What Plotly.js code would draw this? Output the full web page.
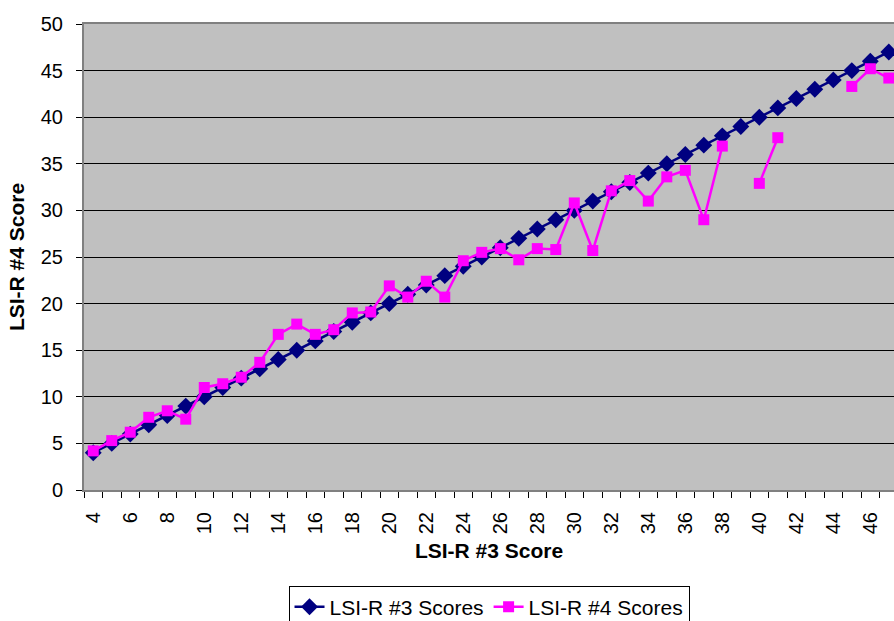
<!DOCTYPE html>
<html>
<head>
<meta charset="utf-8">
<script src="https://cdn.plot.ly/plotly-3.0.1.min.js"></script>
<style>html,body{margin:0;padding:0;background:#fff;}#chart{width:894px;height:621px;}</style>
</head>
<body>
<div id="chart"></div>
<script>
// LSI-R #3 score categories
const scores = [4,5,6,7,8,9,10,11,12,13,14,15,16,17,18,19,20,21,22,23,24,25,26,27,28,29,30,31,32,33,34,35,36,37,38,39,40,41,42,43,44,45,46,47];
// LSI-R #3 Scores series (diagonal reference)
const lsi3 = [4,5,6,7,8,9,10,11,12,13,14,15,16,17,18,19,20,21,22,23,24,25,26,27,28,29,30,31,32,33,34,35,36,37,38,39,40,41,42,43,44,45,46,47];
// LSI-R #4 Scores series (null = no data)
const lsi4 = [4.2,5.3,6.2,7.8,8.5,7.6,11.0,11.4,12.1,13.7,16.7,17.8,16.7,17.2,19.0,19.1,21.9,20.7,22.4,20.7,24.6,25.5,25.9,24.7,25.9,25.8,30.8,25.7,32.1,33.2,31.0,33.6,34.3,29.0,36.9,null,32.9,37.8,null,null,null,43.3,45.2,44.2];
const xTickVals = [4,6,8,10,12,14,16,18,20,22,24,26,28,30,32,34,36,38,40,42,44,46];
const yTickVals = [0,5,10,15,20,25,30,35,40,45,50];

const font = {family: 'Arial, "Liberation Sans", sans-serif', color: '#000'};

const traces = [
  {
    x: scores, y: lsi3, name: 'LSI-R #3 Scores', type: 'scatter', mode: 'lines+markers',
    line: {color: '#000080', width: 2.5},
    marker: {symbol: 'diamond', size: 13, color: '#000080'}
  },
  {
    x: scores, y: lsi4, name: 'LSI-R #4 Scores', type: 'scatter', mode: 'lines+markers',
    connectgaps: false,
    line: {color: '#FF00FF', width: 2.5},
    marker: {symbol: 'square', size: 11, color: '#FF00FF'}
  }
];

const layout = {
  width: 894, height: 621,
  margin: {l: 84, r: 0, t: 24, b: 131},
  paper_bgcolor: '#ffffff',
  plot_bgcolor: '#C0C0C0',
  font: Object.assign({size: 20}, font),
  showlegend: true,
  legend: {
    orientation: 'h', xref: 'container', yref: 'container',
    x: 0.547, xanchor: 'center', y: 0.057, yanchor: 'top',
    bordercolor: '#000', borderwidth: 1, bgcolor: '#fff',
    font: Object.assign({size: 21}, font),
    tracegroupgap: 0
  },
  xaxis: {
    range: [3.5, 47.28],
    tickvals: xTickVals, ticktext: xTickVals.map(String),
    tickangle: -90, ticks: '', ticklen: 0, ticklabelstandoff: 12,
    tickfont: Object.assign({size: 20}, font),
    minor: {ticks: 'outside', tick0: 3.5, dtick: 1, ticklen: 6, tickcolor: '#000', tickwidth: 1, showgrid: false},
    showgrid: false, zeroline: false,
    showline: true, linecolor: '#808080', linewidth: 2, mirror: true,
    title: {text: 'LSI-R #3 Score', font: Object.assign({size: 21, weight: 'bold'}, font), standoff: 10}
  },
  yaxis: {
    range: [0, 50], tickvals: yTickVals,
    ticks: 'outside', ticklen: 6, tickcolor: '#000', tickwidth: 1, ticklabelstandoff: 9,
    tickfont: Object.assign({size: 20}, font),
    showgrid: true, gridcolor: '#000', gridwidth: 1, zeroline: false,
    showline: true, linecolor: '#808080', linewidth: 2,
    title: {text: 'LSI-R #4 Score', font: Object.assign({size: 21, weight: 'bold'}, font), standoff: 10}
  }
};

Plotly.newPlot('chart', traces, layout, {displayModeBar: false, staticPlot: true});
</script>
</body>
</html>
